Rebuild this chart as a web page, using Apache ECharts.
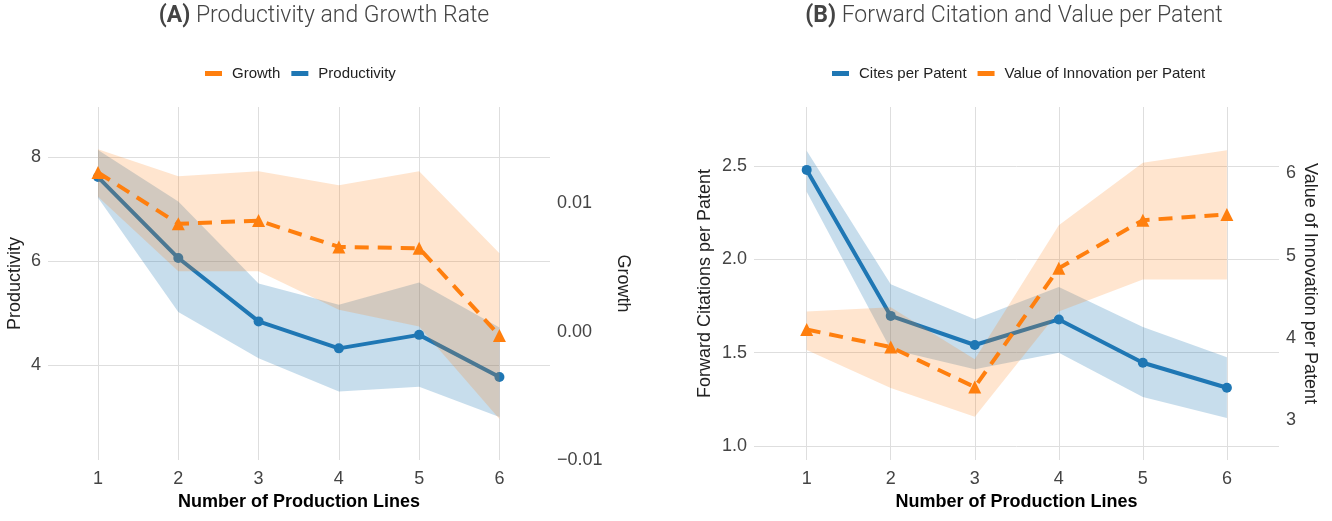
<!DOCTYPE html>
<html>
<head>
<meta charset="utf-8">
<script src="https://cdn.jsdelivr.net/npm/echarts@6.0.0/dist/echarts.min.js"></script>
<style>
  html, body { margin: 0; padding: 0; background: #fff; }
  #main { width: 1332px; height: 521px; }
</style>
</head>
<body>
<div id="main"></div>
<script>
// number of production lines
const lines = [1, 2, 3, 4, 5, 6];

// panel A
const productivity = [7.62, 6.06, 4.84, 4.32, 4.58, 3.77];
const productivityLo = [7.22, 5.02, 4.13, 3.49, 3.58, 3.00];
const productivityHi = [8.14, 7.15, 5.57, 5.16, 5.59, 4.72];
const growth = [0.0124, 0.0084, 0.00865, 0.0066, 0.0065, -0.0003];
const growthLo = [0.0105, 0.0047, 0.0047, 0.0017, 0.0004, -0.0068];
const growthHi = [0.0142, 0.0121, 0.0125, 0.0114, 0.0125, 0.0061];

// panel B
const cites = [2.479, 1.697, 1.541, 1.678, 1.446, 1.312];
const citesLo = [2.362, 1.518, 1.411, 1.50, 1.262, 1.15];
const citesHi = [2.582, 1.866, 1.679, 1.852, 1.637, 1.476];
const innovValue = [4.10, 3.887, 3.40, 4.845, 5.43, 5.50];
const innovLo = [3.85, 3.39, 3.04, 4.32, 4.71, 4.71];
const innovHi = [4.32, 4.37, 3.74, 5.37, 6.13, 6.28];

// tick labels
const prodTicks = [4, 6, 8];
const growthTicks = [-0.01, 0, 0.01];
const citesTicks = [1.0, 1.5, 2.0, 2.5];
const innovTicks = [3, 4, 5, 6];

const BLUE = '#1f77b4';
const ORANGE = '#ff7f0e';
const BLUE_BAND = 'rgba(31,119,180,0.25)';
const ORANGE_BAND = 'rgba(255,127,14,0.2)';
const FONT = 'Liberation Sans, Arial, sans-serif';
const GRID_COLOR = '#dedede';

const myChart = echarts.init(document.getElementById('main'));

// confidence band as a polygon, drawn through the axis scales
const band = (name, xIdx, yIdx, lo, hi, fill, z) => ({
  name,
  type: 'custom',
  xAxisIndex: xIdx,
  yAxisIndex: yIdx,
  z,
  silent: true,
  data: lines.map((x, i) => [x, lo[i], hi[i]]),
  encode: { x: 0, y: [1, 2] },
  renderItem: (params, api) => {
    if (params.dataIndex !== 0) return null;
    const top = lines.map((x, i) => api.coord([x, hi[i]]));
    const bottom = lines.map((x, i) => api.coord([x, lo[i]])).reverse();
    return { type: 'polygon', shape: { points: top.concat(bottom) }, style: { fill } };
  }
});

const line = (name, xIdx, yIdx, values, color, dashed, z) => ({
  name,
  type: 'line',
  xAxisIndex: xIdx,
  yAxisIndex: yIdx,
  z,
  data: lines.map((x, i) => [x, values[i]]),
  symbol: dashed ? 'triangle' : 'circle',
  symbolSize: dashed ? 13 : 10,
  showSymbol: true,
  itemStyle: { color },
  lineStyle: { color, width: 4, type: dashed ? [14, 9] : 'solid' },
  emphasis: { disabled: true }
});

const xAxis = (gridIndex, min, max) => ({
  type: 'value',
  gridIndex,
  min,
  max,
  name: 'Number of Production Lines',
  nameLocation: 'middle',
  nameGap: 29,
  nameTextStyle: { fontFamily: FONT, fontSize: 18, fontWeight: 'bold', color: '#000' },
  axisLine: { show: false },
  axisTick: { show: false, customValues: lines },
  axisLabel: { customValues: lines, fontFamily: FONT, fontSize: 18, color: '#444', margin: 10 },
  splitLine: { show: true, lineStyle: { color: GRID_COLOR, width: 1 } }
});

const yAxis = (gridIndex, opts) => ({
  type: 'value',
  gridIndex,
  min: opts.min,
  max: opts.max,
  position: opts.position,
  name: opts.name,
  nameLocation: 'middle',
  nameGap: opts.nameGap,
  nameMoveOverlap: false,
  nameRotate: opts.position === 'right' ? -90 : 90,
  nameTextStyle: { fontFamily: FONT, fontSize: 18, color: '#222' },
  axisLine: { show: false },
  axisTick: { show: false, customValues: opts.ticks },
  axisLabel: {
    customValues: opts.ticks,
    fontFamily: FONT,
    fontSize: 18,
    color: '#444',
    margin: 7,
    formatter: opts.fmt
  },
  splitLine: { show: opts.grid, lineStyle: { color: GRID_COLOR, width: 1 } }
});

const titleStyle = {
  fontFamily: 'Roboto', fontSize: 23, fontWeight: 300, color: '#444',
  rich: { b: { fontFamily: 'Roboto', fontSize: 23, fontWeight: 'bold', color: '#444' } }
};

const option = {
  animation: false,
  backgroundColor: '#fff',
  title: [
    { text: '{b|(A)} Productivity and Growth Rate', left: 319, top: 0, textAlign: 'center', textStyle: titleStyle },
    { text: '{b|(B)} Forward Citation and Value per Patent', left: 1009, top: 0, textAlign: 'center', textStyle: titleStyle }
  ],
  legend: [
    {
      data: ['Growth', 'Productivity'],
      left: 200,
      top: 61,
      icon: 'rect',
      itemWidth: 17,
      itemHeight: 5,
      itemGap: 11,
      textStyle: { fontFamily: FONT, fontSize: 15, color: '#222', padding: [0, 0, 0, 5] }
    },
    {
      data: ['Cites per Patent', 'Value of Innovation per Patent'],
      left: 827,
      top: 61,
      icon: 'rect',
      itemWidth: 17,
      itemHeight: 5,
      itemGap: 11,
      textStyle: { fontFamily: FONT, fontSize: 15, color: '#222', padding: [0, 0, 0, 5] }
    }
  ],
  grid: [
    { left: 48, right: 782, top: 107, bottom: 61 },
    { left: 754, right: 53, top: 107, bottom: 61 }
  ],
  xAxis: [xAxis(0, 0.377, 6.63), xAxis(1, 0.373, 6.62)],
  yAxis: [
    yAxis(0, { min: 2.17, max: 8.969, position: 'left', name: 'Productivity', nameGap: 24,
      ticks: prodTicks, grid: true, fmt: (v) => String(v) }),
    yAxis(0, { min: -0.01, max: 0.0175, position: 'right', name: 'Growth', nameGap: 64,
      ticks: growthTicks, grid: false, fmt: (v) => v.toFixed(2).replace('-', '\u2212') }),
    yAxis(1, { min: 0.925, max: 2.816, position: 'left', name: 'Forward Citations per Patent', nameGap: 40,
      ticks: citesTicks, grid: true, fmt: (v) => v.toFixed(1) }),
    yAxis(1, { min: 2.513, max: 6.807, position: 'right', name: 'Value of Innovation per Patent', nameGap: 22,
      ticks: innovTicks, grid: false, fmt: (v) => String(v) })
  ],
  series: [
    band('Productivity band', 0, 0, productivityLo, productivityHi, BLUE_BAND, 1),
    line('Productivity', 0, 0, productivity, BLUE, false, 2),
    band('Growth band', 0, 1, growthLo, growthHi, ORANGE_BAND, 3),
    line('Growth', 0, 1, growth, ORANGE, true, 4),
    band('Cites band', 1, 2, citesLo, citesHi, BLUE_BAND, 1),
    line('Cites per Patent', 1, 2, cites, BLUE, false, 2),
    band('Innovation band', 1, 3, innovLo, innovHi, ORANGE_BAND, 3),
    line('Value of Innovation per Patent', 1, 3, innovValue, ORANGE, true, 4)
  ]
};

myChart.setOption(option);
</script>
</body>
</html>
